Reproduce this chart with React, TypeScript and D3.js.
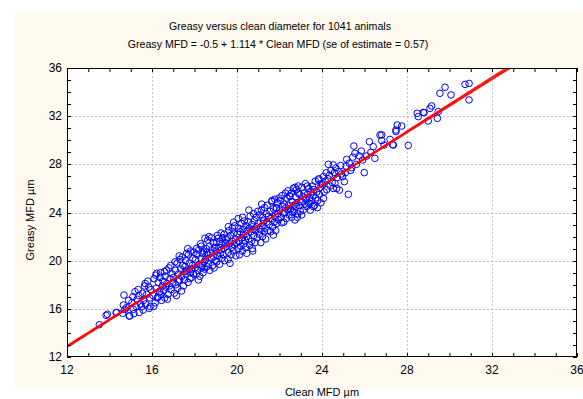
import * as d3 from "d3";

// Axis ticks (both axes share the same range)
const MAJOR_TICKS = [12, 16, 20, 24, 28, 32, 36];
const DOMAIN: [number, number] = [12, 36];

// Regression from the title: Greasy = -0.5 + 1.114 * Clean
const INTERCEPT = -0.5;
const SLOPE = 1.114;
const N_ANIMALS = 1041;
const SE_EST = 0.57;

// [clean MFD, greasy MFD]
const points: [number, number][] = [
  [13.52, 14.68], [13.84, 15.46], [13.9, 15.55], [14.31, 15.68], [14.34, 15.7],
  [14.62, 15.63], [14.65, 16.32], [14.68, 17.15], [14.93, 15.41], [14.95, 15.4], [14.8, 16.1], [14.9, 16.7], [14.72, 15.95],
  [15.12, 15.96], [15.2, 17.42], [15.05, 16.5], [15.1, 17.0], [15.25, 16.2], [15.3, 16.8], [15.35, 17.6], [15.4, 15.7], [15.45, 16.4], [15.15, 15.6], [15.38, 17.1],
  [15.51, 16.18], [15.55, 17.3], [15.6, 16.7], [15.65, 17.9], [15.7, 16.4], [15.75, 17.2], [15.8, 18.3], [15.87, 16.04], [15.9, 16.9], [15.95, 17.6], [15.58, 15.9], [15.68, 18.1], [15.85, 17.8], [15.92, 16.2],
  [16.22, 18.95], [16.05, 17.1], [16.1, 18.5], [16.15, 16.5], [16.2, 17.7], [16.25, 16.9], [16.3, 18.2], [16.35, 17.4], [16.4, 19.0], [16.45, 16.7], [16.48, 17.9], [16.08, 16.2], [16.18, 18.8], [16.28, 17.0], [16.38, 18.6], [16.42, 17.2],
  [16.69, 19.22], [16.52, 18.3], [16.55, 17.5], [16.6, 16.9], [16.62, 18.7], [16.65, 17.8], [16.7, 18.1], [16.75, 17.2], [16.8, 19.4], [16.85, 18.5], [16.9, 17.6], [16.95, 18.9], [16.58, 19.1], [16.72, 16.8], [16.82, 17.9], [16.88, 19.6], [16.98, 18.2],
  [17.39, 17.48], [17.02, 18.6], [17.05, 17.3], [17.1, 19.2], [17.12, 18.0], [17.18, 19.8], [17.2, 17.7], [17.25, 18.9], [17.3, 18.4], [17.32, 20.1], [17.35, 19.3], [17.4, 18.7], [17.45, 19.6], [17.48, 17.9], [17.08, 19.9], [17.22, 18.3], [17.28, 20.4], [17.42, 20.3], [17.15, 17.1],
  [17.63, 20.61], [17.52, 18.4], [17.55, 19.5], [17.58, 20.0], [17.6, 18.9], [17.65, 19.2], [17.7, 18.2], [17.72, 20.5], [17.75, 19.8], [17.8, 19.0], [17.82, 20.8], [17.85, 18.6], [17.9, 19.6], [17.92, 20.2], [17.95, 18.9], [17.98, 20.7], [17.68, 21.0], [17.88, 19.3], [17.56, 19.1], [17.78, 18.5],
  [18.1, 21.02], [18.49, 21.86], [18.02, 19.4], [18.05, 20.1], [18.08, 18.9], [18.12, 20.5], [18.15, 19.2], [18.2, 20.9], [18.22, 19.7], [18.25, 18.7], [18.3, 20.2], [18.32, 21.2], [18.35, 19.4], [18.38, 20.6], [18.4, 19.0], [18.42, 20.8], [18.45, 19.9], [18.48, 19.3], [18.18, 18.4], [18.28, 21.4], [18.36, 19.6],
  [18.52, 20.1], [18.55, 21.0], [18.58, 19.5], [18.6, 20.5], [18.62, 21.7], [18.65, 19.8], [18.7, 21.2], [18.72, 19.2], [18.75, 20.6], [18.78, 20.2], [18.8, 21.9], [18.82, 20.9], [18.85, 19.6], [18.88, 21.5], [18.9, 20.3], [18.92, 19.4], [18.95, 21.1], [18.98, 20.0], [18.68, 22.0], [18.58, 20.7],
  [19.12, 21.86], [19.02, 20.8], [19.05, 19.9], [19.08, 22.1], [19.1, 20.4], [19.15, 21.1], [19.18, 19.7], [19.2, 21.6], [19.22, 20.6], [19.25, 22.3], [19.28, 20.2], [19.3, 21.3], [19.32, 21.9], [19.35, 20.5], [19.38, 21.0], [19.4, 22.2], [19.42, 20.0], [19.45, 21.5], [19.48, 21.8], [19.04, 21.5], [19.26, 20.9],
  [19.59, 22.82], [19.67, 19.78], [19.52, 21.2], [19.55, 21.9], [19.6, 20.7], [19.62, 22.5], [19.65, 21.4], [19.7, 22.1], [19.72, 20.5], [19.75, 21.1], [19.78, 22.7], [19.8, 21.6], [19.82, 20.8], [19.85, 22.3], [19.88, 21.3], [19.9, 22.9], [19.92, 21.8], [19.95, 20.4], [19.98, 21.5], [19.58, 20.1], [19.84, 23.2],
  [20.46, 20.61], [20.02, 22.2], [20.05, 21.0], [20.08, 22.7], [20.1, 21.6], [20.12, 20.5], [20.15, 22.4], [20.18, 21.2], [20.2, 23.1], [20.22, 21.9], [20.25, 20.8], [20.28, 22.6], [20.3, 22.2], [20.32, 21.4], [20.35, 23.3], [20.38, 21.7], [20.4, 21.1], [20.42, 22.9], [20.45, 22.0], [20.48, 22.5], [20.06, 23.5], [20.26, 23.6],
  [20.52, 23.2], [20.55, 21.8], [20.58, 22.7], [20.6, 21.3], [20.62, 23.7], [20.65, 22.4], [20.68, 21.6], [20.7, 23.0], [20.72, 21.0], [20.75, 22.6], [20.78, 23.9], [20.8, 22.1], [20.82, 23.3], [20.85, 21.5], [20.88, 22.5], [20.9, 23.6], [20.92, 22.8], [20.95, 21.9], [20.98, 24.1], [20.56, 24.2], [20.74, 20.8],
  [21.02, 23.1], [21.05, 22.2], [21.08, 23.8], [21.1, 22.6], [21.12, 21.5], [21.15, 24.2], [21.18, 22.9], [21.2, 22.0], [21.22, 23.6], [21.25, 23.3], [21.28, 22.4], [21.3, 24.4], [21.32, 22.7], [21.35, 21.8], [21.38, 23.9], [21.4, 23.2], [21.42, 24.6], [21.45, 22.5], [21.48, 23.7], [21.16, 24.7],
  [21.63, 24.9], [21.71, 22.13], [21.86, 24.35], [21.52, 23.0], [21.55, 24.1], [21.58, 22.4], [21.6, 23.5], [21.65, 25.0], [21.68, 22.8], [21.72, 24.3], [21.75, 23.2], [21.78, 25.1], [21.8, 23.7], [21.82, 22.5], [21.85, 24.4], [21.88, 23.1], [21.9, 24.8], [21.92, 23.9], [21.95, 23.4], [21.98, 25.2],
  [22.1, 23.15], [22.18, 23.94], [22.49, 25.32], [22.02, 24.2], [22.05, 25.0], [22.08, 23.6], [22.12, 25.4], [22.15, 24.5], [22.2, 23.2], [22.22, 24.7], [22.25, 24.0], [22.28, 25.6], [22.3, 24.4], [22.32, 23.5], [22.35, 25.2], [22.38, 24.2], [22.4, 25.8], [22.42, 24.6], [22.45, 23.8], [22.48, 25.4],
  [22.57, 23.6], [22.73, 23.38], [22.73, 26.09], [22.84, 23.6], [22.89, 25.59], [22.52, 24.3], [22.55, 25.6], [22.6, 24.9], [22.62, 24.0], [22.65, 26.0], [22.68, 24.6], [22.7, 24.2], [22.75, 25.3], [22.78, 24.5], [22.8, 25.9], [22.82, 24.8], [22.85, 23.9], [22.88, 26.2], [22.92, 24.6], [22.95, 25.5], [22.98, 24.1],
  [23.04, 23.8], [23.31, 26.2], [23.44, 24.76], [23.02, 24.9], [23.05, 26.1], [23.1, 25.3], [23.12, 24.2], [23.15, 25.6], [23.2, 24.7], [23.22, 26.4], [23.25, 25.1], [23.28, 24.5], [23.32, 25.5], [23.35, 24.8], [23.38, 26.0], [23.42, 25.2], [23.45, 24.2], [23.48, 25.7],
  [23.6, 24.49], [23.83, 26.7], [23.52, 25.0], [23.55, 26.2], [23.58, 25.4], [23.62, 25.9], [23.65, 24.6], [23.68, 26.6], [23.7, 25.2], [23.75, 25.7], [23.78, 24.4], [23.8, 25.0], [23.85, 26.8], [23.88, 25.5], [23.92, 26.1], [23.95, 24.8], [23.98, 26.4],
  [24.07, 26.98], [24.07, 25.17], [24.3, 28.0], [24.02, 26.3], [24.1, 25.7], [24.15, 26.6], [24.2, 27.3], [24.22, 25.9], [24.28, 26.8], [24.35, 27.1], [24.38, 26.2], [24.42, 27.5], [24.48, 26.5],
  [24.53, 27.95], [24.53, 26.0], [24.61, 26.42], [24.69, 26.0], [24.82, 25.86], [24.97, 26.98], [24.58, 27.3], [24.65, 27.7], [24.72, 26.9], [24.78, 27.4], [24.88, 27.9], [24.92, 27.2],
  [25.05, 26.56], [25.13, 27.86], [25.16, 28.41], [25.24, 25.51], [25.4, 27.72], [25.1, 27.3], [25.28, 28.1], [25.35, 27.5], [25.45, 28.6],
  [25.5, 29.52], [25.55, 28.92], [25.91, 28.36], [25.99, 27.31], [25.62, 28.0], [25.75, 28.7], [25.85, 29.1],
  [26.1, 28.69], [26.23, 29.88], [26.41, 29.47], [26.49, 28.5], [26.3, 29.0],
  [26.73, 30.44], [26.81, 30.44], [26.81, 29.97], [26.92, 29.6],
  [27.2, 30.07], [27.33, 29.63], [27.36, 29.6], [27.48, 30.85], [27.48, 30.72], [27.54, 31.27], [27.75, 31.18], [28.06, 29.57],
  [28.48, 32.24], [28.53, 31.96], [28.77, 32.32], [28.8, 32.28], [29.0, 31.6], [29.08, 32.65], [29.16, 32.85], [29.43, 31.82], [29.47, 32.38],
  [29.55, 33.9], [29.79, 34.4], [30.07, 33.76], [30.73, 34.64], [30.92, 34.72], [30.92, 33.35],
];

const W = 583;
const H = 399;
const plot = { left: 67, right: 577, top: 68, bottom: 357 };
const FONT = "Arial, 'Liberation Sans', sans-serif";

export default function App() {
  const x = d3.scaleLinear().domain(DOMAIN).range([plot.left, plot.right]);
  const y = d3.scaleLinear().domain(DOMAIN).range([plot.bottom, plot.top]);
  const minorTicks = d3.range(DOMAIN[0], DOMAIN[1] + 1, 1);
  const gridTicks = MAJOR_TICKS.slice(1, -1);

  // fit line + 95% confidence band for the mean
  const xs = points.map((p) => p[0]);
  const xbar = d3.mean(xs)!;
  const sxx = d3.variance(xs)! * (N_ANIMALS - 1);
  const fitXs = d3.range(12, 36.01, 0.25);
  const fit = (v: number) => INTERCEPT + SLOPE * v;
  const band = (v: number) => 1.96 * SE_EST * Math.sqrt(1 / N_ANIMALS + (v - xbar) ** 2 / sxx);
  const line = d3.line<number>().x((v) => x(v));
  const fitPath = line.y((v) => y(fit(v)))(fitXs)!;
  const upPath = line.y((v) => y(fit(v) + band(v)))(fitXs)!;
  const loPath = line.y((v) => y(fit(v) - band(v)))(fitXs)!;

  return (
    <svg
      width={W}
      height={H}
      style={{ position: "absolute", left: 0, top: 0, fontFamily: FONT }}
    >
      <rect x={0} y={0} width={W} height={H} fill="#ffffff" />
      <rect x={15} y={11} width={W - 15} height={378} fill="#fdf9ef" />

      <text x={280} y={30} textAnchor="middle" fontSize={10.6} fill="#000">
        Greasy versus clean diameter for 1041 animals
      </text>
      <text x={278} y={48} textAnchor="middle" fontSize={10.6} fill="#000">
        Greasy MFD = -0.5 + 1.114 * Clean MFD (se of estimate = 0.57)
      </text>

      <defs>
        <clipPath id="plot-clip">
          <rect x={plot.left} y={plot.top} width={plot.right - plot.left} height={plot.bottom - plot.top} />
        </clipPath>
      </defs>

      <rect
        x={plot.left}
        y={plot.top}
        width={plot.right - plot.left}
        height={plot.bottom - plot.top}
        fill="#ffffff"
      />

      {/* grid */}
      {gridTicks.map((t) => (
        <g key={"g" + t} stroke="#c4c4c4" strokeWidth={1} strokeDasharray="2,2">
          <line x1={x(t) + 0.5} x2={x(t) + 0.5} y1={plot.top} y2={plot.bottom} />
          <line x1={plot.left} x2={plot.right} y1={Math.round(y(t)) + 0.5} y2={Math.round(y(t)) + 0.5} />
        </g>
      ))}

      {/* points */}
      <g fill="none" stroke="#0000ff" strokeWidth={1} clipPath="url(#plot-clip)">
        {points.map((p, i) => (
          <circle key={i} cx={x(p[0])} cy={y(p[1])} r={3.3} />
        ))}
      </g>

      {/* regression line with confidence band */}
      <g fill="none" stroke="#ff0000" clipPath="url(#plot-clip)">
        <path d={upPath} strokeWidth={1.1} />
        <path d={loPath} strokeWidth={1.1} />
        <path d={fitPath} strokeWidth={1.4} />
      </g>

      {/* frame and inward ticks */}
      <rect
        x={plot.left + 0.5}
        y={plot.top + 0.5}
        width={plot.right - plot.left - 1}
        height={plot.bottom - plot.top - 1}
        fill="none"
        stroke="#000"
        strokeWidth={1}
      />
      <g stroke="#000" strokeWidth={1}>
        {minorTicks.map((t) => (
          <g key={"t" + t}>
            <line x1={x(t) + 0.5} x2={x(t) + 0.5} y1={plot.bottom} y2={plot.bottom - 4} />
            <line x1={x(t) + 0.5} x2={x(t) + 0.5} y1={plot.top} y2={plot.top + 4} />
            <line x1={plot.left} x2={plot.left + 4} y1={Math.round(y(t)) + 0.5} y2={Math.round(y(t)) + 0.5} />
            <line x1={plot.right} x2={plot.right - 4} y1={Math.round(y(t)) + 0.5} y2={Math.round(y(t)) + 0.5} />
          </g>
        ))}
      </g>

      {/* tick labels */}
      {MAJOR_TICKS.map((t) => (
        <text key={"xl" + t} x={x(t)} y={plot.bottom + 17} textAnchor="middle" fontSize={12} fill="#000">
          {t}
        </text>
      ))}
      {MAJOR_TICKS.map((t) => (
        <text key={"yl" + t} x={plot.left - 5} y={y(t) + 4} textAnchor="end" fontSize={12} fill="#000">
          {t}
        </text>
      ))}

      <text x={(plot.left + plot.right) / 2} y={396} textAnchor="middle" fontSize={11} fill="#000">
        Clean MFD µm
      </text>
      <text
        transform={`translate(34,220) rotate(-90)`}
        textAnchor="middle"
        fontSize={11}
        fill="#000"
      >
        Greasy MFD µm
      </text>
    </svg>
  );
}
